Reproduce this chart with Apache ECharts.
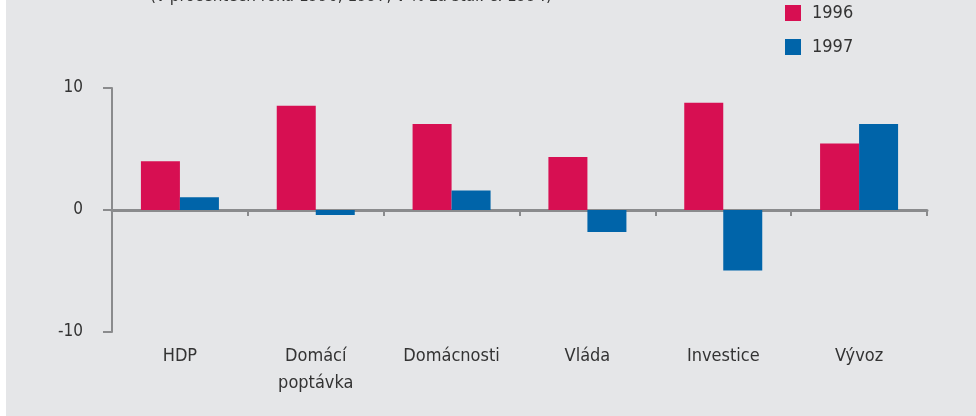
<!DOCTYPE html>
<html>
<head>
<meta charset="utf-8">
<script src="https://cdn.jsdelivr.net/npm/echarts@6/dist/echarts.min.js"></script>
<style>
  html, body { margin: 0; padding: 0; background: #fff; }
  #chart { width: 976px; height: 416px; }
</style>
</head>
<body>
<div id="chart"></div>
<script>
// kategorie na ose x
const categories = ['HDP', 'Domácí\npoptávka', 'Domácnosti', 'Vláda', 'Investice', 'Vývoz'];
// meziroční změny v %
const values1996 = [4.0, 8.55, 7.05, 4.35, 8.8, 5.45];
const values1997 = [1.05, -0.4, 1.6, -1.8, -4.95, 7.05];
const yTicks = [-10, 0, 10];

const fontFamily = "'Liberation Sans Narrow', 'DejaVu Sans Condensed', sans-serif";
const axisColor = '#8a8b8d';

const myChart = echarts.init(document.getElementById('chart'));

const option = {
  backgroundColor: '#e5e6e8',
  animation: false,
  graphic: [
    // bílý proužek vlevo
    { type: 'rect', left: 0, top: 0, shape: { width: 6, height: 416 }, style: { fill: '#ffffff' } },
    // podtitulek, oříznutý horním okrajem
    {
      type: 'text', left: 150, top: -12,
      style: {
        text: '(v procentech roku 1996, 1997, v % za stál. c. 1994)',
        fill: '#333', font: '17px ' + fontFamily,
      },
    },
  ],
  legend: {
    orient: 'vertical',
    left: 785,
    top: 4,
    padding: 0,
    itemWidth: 16,
    itemHeight: 16,
    itemGap: 16,
    icon: 'rect',
    textStyle: { color: '#333', fontSize: 18, fontFamily: fontFamily, padding: [0, 0, 0, 6] },
    data: ['1996', '1997'],
  },
  grid: { left: 112, right: 49, top: 88, bottom: 84 },
  xAxis: [
    {
      // osa na nule - čára a značky
      type: 'category',
      data: categories,
      axisLine: { onZero: true, lineStyle: { color: axisColor, width: 3 } },
      axisTick: { show: true, length: 6, lineStyle: { color: axisColor, width: 2 } },
      axisLabel: { show: false },
      splitLine: { show: false },
    },
    {
      // popisky dole
      type: 'category',
      position: 'bottom',
      data: categories,
      axisLine: { show: false, onZero: false },
      axisTick: { show: false },
      axisLabel: {
        color: '#333',
        fontSize: 18,
        fontFamily: fontFamily,
        margin: 11,
        lineHeight: 27,
        interval: 0,
      },
    },
  ],
  yAxis: {
    type: 'value',
    min: -10,
    max: 10,
    interval: 10,
    axisLine: { show: true, lineStyle: { color: axisColor, width: 2 } },
    axisTick: { show: true, length: 9, lineStyle: { color: axisColor, width: 2 } },
    axisLabel: {
      color: '#333',
      fontSize: 17,
      fontFamily: fontFamily,
      margin: 29,
      formatter: function (v) {
        return yTicks.indexOf(v) >= 0 ? String(v) : '';
      },
    },
    splitLine: { show: false },
  },
  series: [
    {
      name: '1996',
      type: 'bar',
      xAxisIndex: 0,
      barWidth: 39,
      barGap: '0%',
      itemStyle: { color: '#d70f52' },
      data: values1996,
    },
    {
      name: '1997',
      type: 'bar',
      xAxisIndex: 0,
      barWidth: 39,
      barGap: '0%',
      itemStyle: { color: '#0064a9' },
      data: values1997,
    },
  ],
};

myChart.setOption(option);
</script>
</body>
</html>
